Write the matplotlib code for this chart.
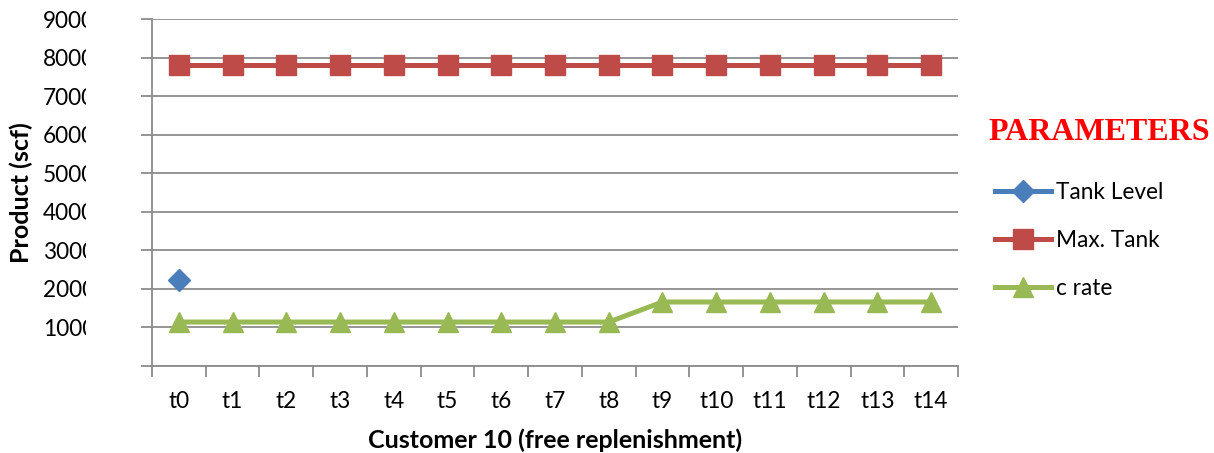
import numpy as np
import matplotlib
matplotlib.use("Agg")
import matplotlib.pyplot as plt
from matplotlib.transforms import Bbox, TransformedBbox
from matplotlib.ticker import FixedLocator, NullFormatter

plt.rcParams['font.family'] = ['Lato', 'DejaVu Sans']

periods = [f"t{i}" for i in range(15)]
tank_level = [2230] + [np.nan] * 14
max_tank = [7800] * 15
c_rate = [1140] * 9 + [1660] * 6
y_ticks = list(range(0, 10000, 1000))
y_labels = [""] + [str(v) for v in y_ticks[1:]]

W, H = 1214, 453
fig = plt.figure(figsize=(W / 100, H / 100), dpi=100)
ax = fig.add_axes([152 / W, 1 - 366 / H, (958 - 152) / W, (366 - 19) / H])

x = np.arange(len(periods))
grid_c = "#8c8c8c"
tick_fs = 16.3

ax.plot(x, tank_level, color="#4a7ebb", lw=3.6, marker="D", ms=11.5,
        label="Tank Level", zorder=3)
ax.plot(x, max_tank, color="#be4b48", lw=3.6, marker="s", ms=14.5,
        label="Max. Tank", zorder=3)
ax.plot(x, c_rate, color="#98b954", lw=3.6, marker="^", ms=15,
        label="c rate", zorder=3)

ax.set_xlim(-0.5, len(periods) - 0.5)
ax.set_ylim(0, 9000)

# category boundaries carry the tick marks, centres carry the labels
ax.xaxis.set_major_locator(FixedLocator(np.arange(-0.5, len(periods), 1.0)))
ax.xaxis.set_major_formatter(NullFormatter())
ax.xaxis.set_minor_locator(FixedLocator(x))
ax.set_xticklabels(periods, minor=True)
ax.tick_params(axis="x", which="major", length=8, width=1.3, color=grid_c,
               direction="out")
ax.tick_params(axis="x", which="minor", length=0, pad=18, labelsize=tick_fs)

ax.set_yticks(y_ticks, y_labels)
ax.tick_params(axis="y", length=8, width=1.3, color=grid_c, direction="out",
               pad=70.5, labelsize=tick_fs)
for lbl in ax.get_yticklabels():
    lbl.set_horizontalalignment("left")

ax.yaxis.grid(True, color=grid_c, lw=1.3)
ax.set_axisbelow(True)
for s in ["top", "right"]:
    ax.spines[s].set_visible(False)
for s in ["left", "bottom"]:
    ax.spines[s].set_color(grid_c)
    ax.spines[s].set_linewidth(1.3)

ax.set_ylabel("Product (scf)", fontsize=18, fontweight="bold")
ax.yaxis.set_label_coords(-(152 - 33) / (958 - 152), 0.5)
ax.set_xlabel("Customer 10 (free replenishment)", fontsize=18,
              fontweight="bold", labelpad=12)

fig.text(1099 / W, 1 - 132.5 / H, "PARAMETERS", color="#ff0000",
         fontsize=23, fontweight="bold", family="Liberation Serif",
         ha="center", va="center")

leg = fig.legend(loc="upper left", bbox_to_anchor=(986 / W, 1 - 173 / H),
                 frameon=False, fontsize=tick_fs, handlelength=2.45,
                 handletextpad=0.22, labelspacing=1.2, borderaxespad=0)

# left labels are cut off by the frame edge
fig.canvas.draw()
clip = TransformedBbox(Bbox([[0, 0], [86 / W, 1]]), fig.transFigure)
for lbl in ax.get_yticklabels():
    lbl.set_clip_box(clip)
    lbl.set_clip_on(True)

fig.savefig("out.png", dpi=100)
